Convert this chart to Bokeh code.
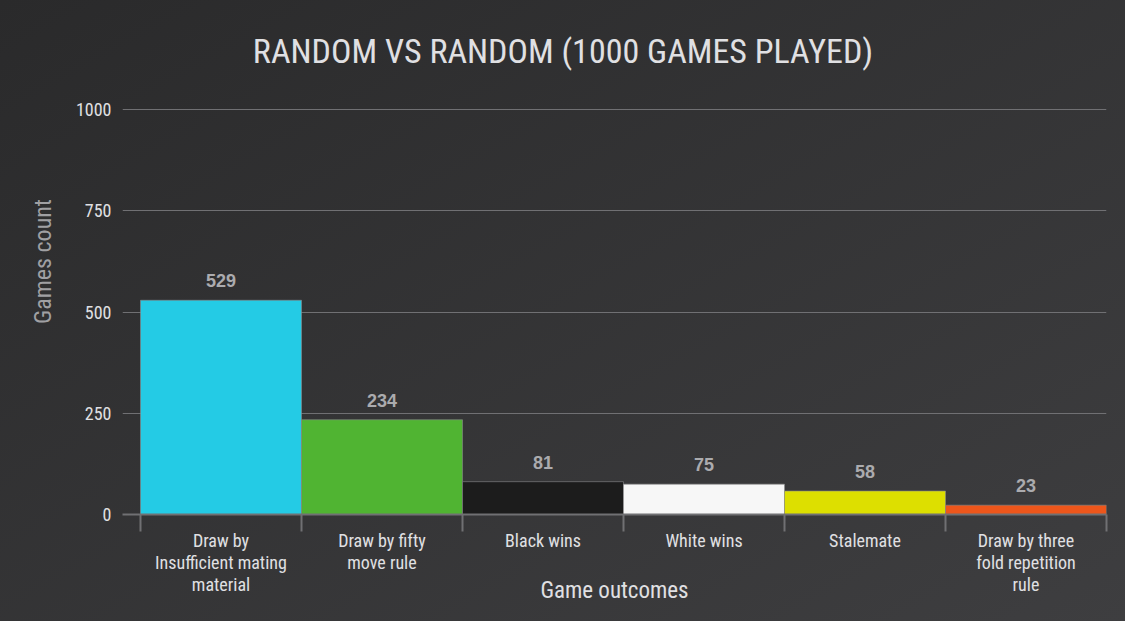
from bokeh.plotting import figure
from bokeh.models import Range1d, FixedTicker, ColumnDataSource
from bokeh.embed import file_html
from bokeh.resources import INLINE
from bokeh.core.properties import value

# ---- data ----
categories = [
    "Draw by\nInsufficient mating\nmaterial",
    "Draw by fifty\nmove rule",
    "Black wins",
    "White wins",
    "Stalemate",
    "Draw by three\nfold repetition\nrule",
]
counts = [529, 234, 81, 75, 58, 23]
bar_colors = ["#24CBE5", "#50B432", "#1c1c1c", "#f7f7f7", "#DDDF00", "#ED561B"]
y_ticks = [0, 250, 500, 750, 1000]

TITLE = "RANDOM VS RANDOM (1000 GAMES PLAYED)"
X_TITLE = "Game outcomes"
Y_TITLE = "Games count"

FONT = "Roboto Condensed"

# ---- geometry (pixels) ----
W, H = 1125, 621
F_LEFT, F_RIGHT, F_BOTTOM = 122, 1106, 514   # frame edges
F_TOP = 8
PX_PER_UNIT = 405 / 1000.0                   # 1000 games -> 405 px
y_end = (F_BOTTOM - F_TOP) / PX_PER_UNIT     # frame extended upward to hold the title
n = len(categories)
x_start = -18 / 161.0

centers = [i + 0.5 for i in range(n)]
bounds = [float(i) for i in range(n + 1)]

src = ColumnDataSource(dict(x=centers, top=counts, color=bar_colors,
                            label=[str(c) for c in counts]))

p = figure(width=W, height=H, output_backend="svg", toolbar_location=None,
           x_range=Range1d(x_start, n), y_range=Range1d(0, y_end),
           min_border_left=F_LEFT, min_border_right=W - F_RIGHT,
           min_border_top=F_TOP, min_border_bottom=H - F_BOTTOM)
p.background_fill_alpha = 0
p.border_fill_alpha = 0
p.outline_line_color = None

p.vbar(x="x", top="top", width=1.0, bottom=0, fill_color="color", source=src,
       line_color="#8a8a8c", line_alpha=0.6, line_width=1)

p.text(x="x", y="top", text="label", source=src, text_align="center",
       text_baseline="bottom", y_offset=-13, text_font=value("Liberation Sans"),
       text_font_style="bold", text_font_size="18px", text_color="#ababae")

# chart title (drawn inside the extended frame, centred on the page)
title_x = x_start + (W / 2 - F_LEFT) / 161.0
title_y = (F_BOTTOM - 50) / PX_PER_UNIT
p.text(x=[title_x], y=[title_y], text=[TITLE], text_align="center",
       text_baseline="middle", text_font=value(FONT), text_font_size="34px",
       text_color="#E0E0E3")

# x axis
xa = p.xaxis[0]
xa.ticker = FixedTicker(ticks=centers, minor_ticks=bounds)
xa.major_label_overrides = {c: lab for c, lab in zip(centers, categories)}
xa.major_tick_out = 0
xa.major_tick_in = 0
xa.minor_tick_out = 17
xa.minor_tick_in = 0
xa.minor_tick_line_color = "#707073"
xa.minor_tick_line_width = 2
xa.axis_line_color = "#707073"
xa.axis_line_width = 2
xa.major_label_standoff = -2
xa.major_label_text_font = FONT
xa.major_label_text_font_size = "18px"
xa.major_label_text_color = "#E0E0E3"
xa.major_label_text_line_height = 1.05
xa.axis_label = X_TITLE
xa.axis_label_standoff = -21
xa.axis_label_text_font = FONT
xa.axis_label_text_font_size = "23px"
xa.axis_label_text_font_style = "normal"
xa.axis_label_text_color = "#E0E0E3"

# y axis
ya = p.yaxis[0]
ya.ticker = FixedTicker(ticks=y_ticks)
ya.axis_line_color = None
ya.major_tick_line_color = None
ya.major_tick_out = 0
ya.major_tick_in = 0
ya.minor_tick_line_color = None
ya.minor_tick_out = 0
ya.major_label_standoff = 11
ya.major_label_text_font = FONT
ya.major_label_text_font_size = "18px"
ya.major_label_text_color = "#E0E0E3"
ya.axis_label = Y_TITLE
ya.axis_label_standoff = 16
ya.axis_label_text_font = FONT
ya.axis_label_text_font_size = "24px"
ya.axis_label_text_font_style = "normal"
ya.axis_label_text_color = "#A0A0A3"

p.xgrid.grid_line_color = None
p.ygrid.grid_line_color = "#707073"
p.ygrid.grid_line_width = 1
p.ygrid.ticker = FixedTicker(ticks=y_ticks)

html = file_html(p, INLINE)
html = html.replace("</head>",
                    "<style>html{min-height:100%;background:linear-gradient(to bottom right,#2a2a2b,#3e3e40);}"
                    "body{background:transparent;}</style></head>", 1)
open("out.html", "w").write(html)
